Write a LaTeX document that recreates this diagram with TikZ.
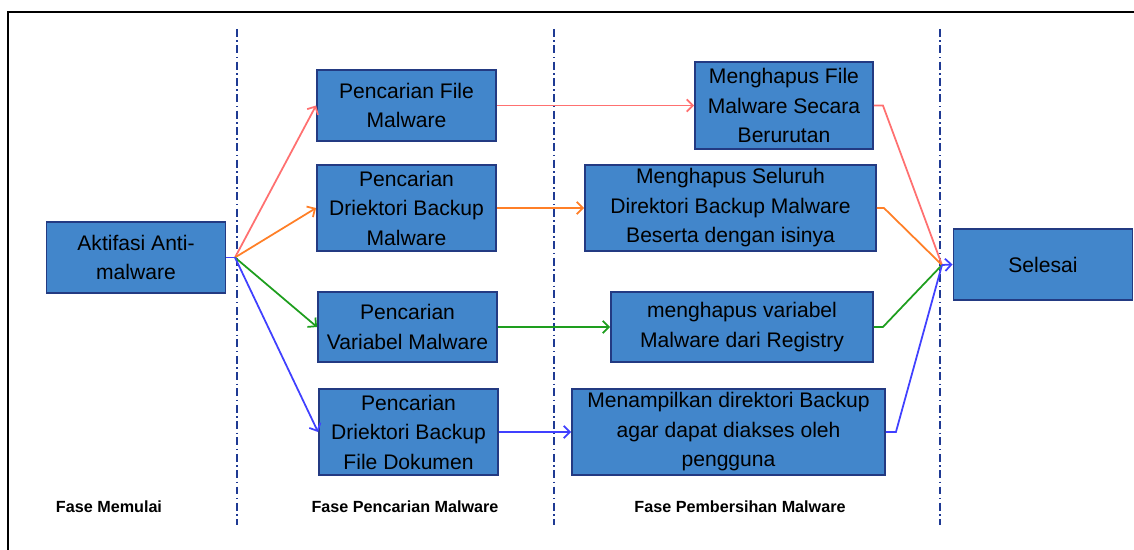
\documentclass[tikz,border=0pt]{standalone}
\usepackage{fontspec}
\setmainfont{Liberation Sans}
\definecolor{boxblue}{RGB}{66,134,203}
\definecolor{boxnavy}{RGB}{35,58,130}
\definecolor{sepnavy}{RGB}{31,58,147}
\definecolor{flowred}{RGB}{255,112,112}
\definecolor{floworange}{RGB}{255,127,39}
\definecolor{flowgreen}{RGB}{30,158,30}
\definecolor{flowblue}{RGB}{64,64,255}
\usetikzlibrary{arrows.meta,positioning,calc}

\begin{document}
\begin{tikzpicture}[x=0.02cm, y=-0.02cm,
    procbox/.style={draw=boxnavy, line width=1.1pt, fill=boxblue, inner sep=0pt, align=center,
      font=\fontsize{12}{16.8}\selectfont, minimum width=3.58cm, minimum height=1.42cm},
    phaseline/.style={sepnavy, line width=1pt, dash pattern=on 4.5pt off 2pt on 0.8pt off 2pt},
    phaselabel/.style={font=\fontsize{9.2}{11}\selectfont\bfseries},
    flowarrow/.style={line width=1pt, -{Straight Barb[length=3.5pt,width=7pt]}},
    flowline/.style={line width=1pt}]
  \useasboundingbox (0,0) rectangle (1134,550);

  % Frame
  \draw[line width=1.5pt] (8,551) -- (8,12) -- (1135,12);

  % Phase separators
  \draw[phaseline] (237,29) -- (237,525);
  \draw[phaseline] (554,29) -- (554,525);
  \draw[phaseline] (940,29) -- (940,525);

  % Phase labels
  \node[phaselabel] (lblMulai) at (109,507) {Fase Memulai};
  \node[phaselabel] (lblCari) at (405,507) {Fase Pencarian Malware};
  \node[phaselabel] (lblBersih) at (740,507) {Fase Pembersihan Malware};

  % Start
  \node[procbox] (aktif) at (136,257.5) {Aktifasi Anti-\\malware};

  % Search phase
  \node[procbox] (cariFile) at (406.5,105.5) {Pencarian File\\Malware};
  \node[procbox, minimum height=1.72cm] (cariDir) at (406.5,208) {Pencarian\\Driektori Backup\\Malware};
  \node[procbox, minimum height=1.4cm] (cariVar) at (407.5,327) {Pencarian\\Variabel Malware};
  \node[procbox, minimum height=1.72cm] (cariDok) at (408.5,432) {Pencarian\\Driektori Backup\\File Dokumen};

  % Cleaning phase
  \node[procbox, minimum width=3.56cm, minimum height=1.74cm] (hapusFile) at (784,105.5) {Menghapus File\\Malware Secara\\Berurutan};
  \node[procbox, minimum width=5.82cm, minimum height=1.72cm] (hapusDir) at (730.5,208) {Menghapus Seluruh\\Direktori Backup Malware\\Beserta dengan isinya};
  \node[procbox, minimum width=5.24cm, minimum height=1.4cm] (hapusVar) at (742,327) {menghapus variabel\\Malware dari Registry};
  \node[procbox, minimum width=6.26cm, minimum height=1.72cm] (tampilDir) at (728.5,432) {Menampilkan direktori Backup\\agar dapat diakses oleh\\pengguna};

  % End
  \node[procbox] (selesai) at (1043,264.5) {Selesai};

  % Junctions
  \coordinate (jL) at (235,257.5);
  \coordinate (jR) at (942,265);

  % Fan out
  \draw[flowline, flowblue] (aktif.east) -- (jL);
  \draw[flowarrow, flowred] (jL) -- (cariFile.west);
  \draw[flowarrow, floworange] (jL) -- (cariDir.west);
  \draw[flowarrow, flowgreen] (jL) -- (cariVar.west);
  \draw[flowarrow, flowblue] (jL) -- (cariDok.west);

  % Search to cleaning
  \draw[flowarrow, flowred] (cariFile.east) -- (hapusFile.west);
  \draw[flowarrow, floworange] (cariDir.east) -- (hapusDir.west);
  \draw[flowarrow, flowgreen] (cariVar.east) -- (hapusVar.west);
  \draw[flowarrow, flowblue] (cariDok.east) -- (tampilDir.west);

  % Fan in
  \draw[flowline, flowred] (hapusFile.east) -- ++(9,0) -- (jR);
  \draw[flowline, floworange] (hapusDir.east) -- ++(7,0) -- (jR);
  \draw[flowline, flowgreen] (hapusVar.east) -- ++(9,0) -- (jR);
  \draw[flowline, flowblue] (tampilDir.east) -- ++(10,0) -- (jR);
  \draw[flowarrow, flowblue] (jR) -- (selesai.west);
\end{tikzpicture}
\end{document}
